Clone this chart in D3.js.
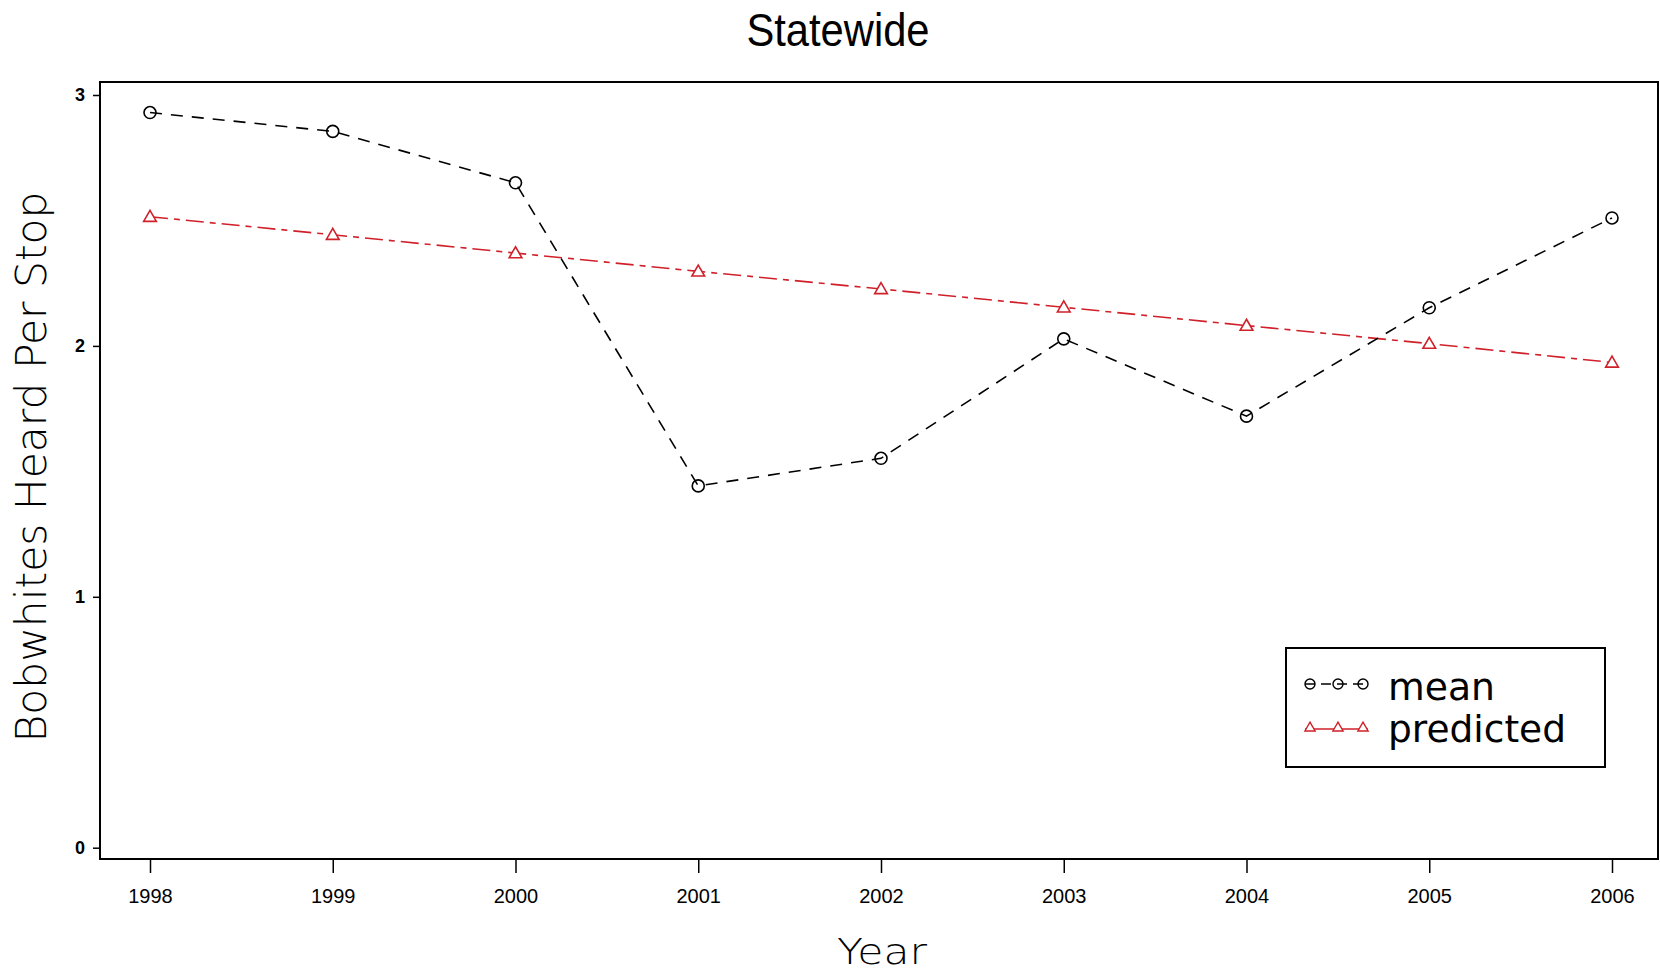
<!DOCTYPE html>
<html lang="en">
<head>
    <meta charset="UTF-8">
    <title>Statewide</title>
    <script src="https://d3js.org/d3.v7.min.js"></script>
    <style>
        body { margin: 0; background: #fff; }
        svg { display: block; }
        .tick-lbl { font-family: "Liberation Sans", Arial, sans-serif; fill: #000; }
        .thin { font-family: "DejaVu Sans", sans-serif; font-weight: 200; fill: #000; }
    </style>
</head>
<body>
    <div id="chart"></div>
    <script>
        // data
        const years = [1998, 1999, 2000, 2001, 2002, 2003, 2004, 2005, 2006];
        const meanVals = [2.93, 2.855, 2.65, 1.442, 1.552, 2.028, 1.72, 2.152, 2.51];
        const predVals = [2.515, 2.443, 2.37, 2.297, 2.227, 2.154, 2.081, 2.009, 1.934];
        const yTicks = [0, 1, 2, 3];

        const width = 1660, height = 976;
        const frame = {left: 100, right: 1658, top: 82, bottom: 859};

        const svg = d3.select("#chart").append("svg")
                      .attr("width", width)
                      .attr("height", height);

        const x = d3.scaleLinear().domain([1998, 2006]).range([150, 1612]);
        const y = d3.scaleLinear().domain([0, 3]).range([847.7, 95]);

        // frame
        svg.append("rect")
           .attr("x", frame.left).attr("y", frame.top)
           .attr("width", frame.right - frame.left)
           .attr("height", frame.bottom - frame.top)
           .attr("fill", "none").attr("stroke", "#000").attr("stroke-width", 2);

        // x axis
        const xAxis = d3.axisBottom(x).tickValues(years).tickFormat(d3.format("d"))
                        .tickSize(14).tickPadding(16);
        const gx = svg.append("g").attr("transform", `translate(0,${frame.bottom})`).call(xAxis);
        gx.select(".domain").remove();
        gx.selectAll(".tick line").attr("stroke", "#000").attr("stroke-width", 1.5);
        gx.selectAll(".tick text").attr("class", "tick-lbl")
          .style("font-size", "20px").style("font-family", "Liberation Sans, Arial, sans-serif");

        // y axis
        const yAxis = d3.axisLeft(y).tickValues(yTicks).tickFormat(d3.format("d"))
                        .tickSize(7).tickPadding(8);
        const gy = svg.append("g").attr("transform", `translate(${frame.left},0)`).call(yAxis);
        gy.select(".domain").remove();
        gy.selectAll(".tick line").attr("stroke", "#000").attr("stroke-width", 1.5);
        gy.selectAll(".tick text").attr("class", "tick-lbl")
          .style("font-size", "18px").style("font-weight", "bold")
          .style("font-family", "Liberation Sans, Arial, sans-serif");

        // title and axis labels
        svg.append("text").attr("x", 838).attr("y", 46)
           .attr("text-anchor", "middle")
           .attr("textLength", 183).attr("lengthAdjust", "spacingAndGlyphs")
           .style("font-family", "Liberation Sans, Arial, sans-serif")
           .style("font-size", "46px")
           .text("Statewide");

        svg.append("text").attr("class", "thin")
           .attr("x", 882).attr("y", 964)
           .attr("text-anchor", "middle")
           .attr("textLength", 90).attr("lengthAdjust", "spacingAndGlyphs")
           .style("font-size", "36px")
           .text("Year");

        svg.append("text").attr("class", "thin")
           .attr("transform", "translate(46,467) rotate(-90)")
           .attr("text-anchor", "middle")
           .attr("textLength", 551).attr("lengthAdjust", "spacingAndGlyphs")
           .style("font-size", "42px")
           .text("Bobwhites Heard Per Stop");

        const line = d3.line().x(d => x(d[0])).y(d => y(d[1]));
        const meanPts = years.map((yr, i) => [yr, meanVals[i]]);
        const predPts = years.map((yr, i) => [yr, predVals[i]]);

        // predicted (red)
        svg.append("path").datum(predPts).attr("d", line)
           .attr("fill", "none").attr("stroke", "#d0202a").attr("stroke-width", 1.6)
           .attr("stroke-dasharray", "18,6,6,6");
        const tri = d3.symbol().type(d3.symbolTriangle).size(70);
        svg.selectAll(".tri").data(predPts).enter().append("path")
           .attr("d", tri)
           .attr("transform", d => `translate(${x(d[0])},${y(d[1]) + 1})`)
           .attr("fill", "#fff").attr("stroke", "#d0202a").attr("stroke-width", 1.6);

        // mean (black)
        svg.append("path").datum(meanPts).attr("d", line)
           .attr("fill", "none").attr("stroke", "#000").attr("stroke-width", 1.6)
           .attr("stroke-dasharray", "12,9");
        svg.selectAll(".circ").data(meanPts).enter().append("circle")
           .attr("cx", d => x(d[0])).attr("cy", d => y(d[1])).attr("r", 6)
           .attr("fill", "none").attr("stroke", "#000").attr("stroke-width", 1.6);

        // legend
        const lg = svg.append("g");
        lg.append("rect").attr("x", 1286).attr("y", 648).attr("width", 319).attr("height", 119)
          .attr("fill", "#fff").attr("stroke", "#000").attr("stroke-width", 2);
        const symX = [1310, 1338, 1363];
        lg.append("line").attr("x1", 1305).attr("x2", 1368).attr("y1", 684).attr("y2", 684)
          .attr("stroke", "#000").attr("stroke-width", 1.4).attr("stroke-dasharray", "10,6");
        lg.selectAll(".lc").data(symX).enter().append("circle")
          .attr("cx", d => d).attr("cy", 684).attr("r", 5)
          .attr("fill", "none").attr("stroke", "#000").attr("stroke-width", 1.4);
        lg.append("line").attr("x1", 1305).attr("x2", 1368).attr("y1", 729).attr("y2", 729)
          .attr("stroke", "#d0202a").attr("stroke-width", 1.4);
        lg.selectAll(".lt").data(symX).enter().append("path")
          .attr("d", d3.symbol().type(d3.symbolTriangle).size(45))
          .attr("transform", d => `translate(${d},728)`)
          .attr("fill", "#fff").attr("stroke", "#d0202a").attr("stroke-width", 1.4);
        lg.append("text").attr("class", "thin").attr("x", 1388).attr("y", 700)
          .attr("textLength", 107).attr("lengthAdjust", "spacingAndGlyphs")
          .style("font-size", "38px").style("font-weight", "normal").text("mean");
        lg.append("text").attr("class", "thin").attr("x", 1388).attr("y", 742)
          .attr("textLength", 178).attr("lengthAdjust", "spacingAndGlyphs")
          .style("font-size", "38px").style("font-weight", "normal").text("predicted");
    </script>
</body>
</html>
